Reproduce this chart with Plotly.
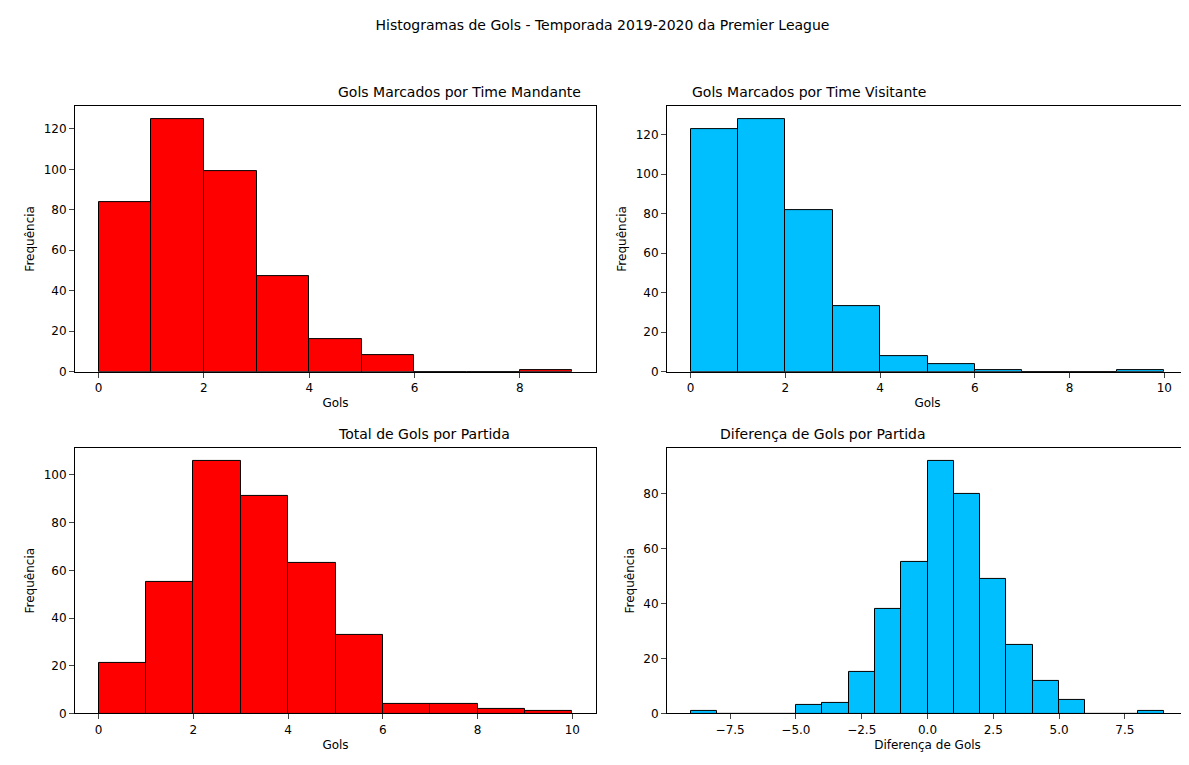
import plotly.graph_objects as go

# bin left edges (width 1) and counts
mandante_bins = [0, 1, 2, 3, 4, 5, 6, 7, 8]
mandante_freq = [84, 125, 99, 47, 16, 8, 0, 0, 1]

visitante_bins = [0, 1, 2, 3, 4, 5, 6, 7, 8, 9]
visitante_freq = [123, 128, 82, 33, 8, 4, 1, 0, 0, 1]

total_bins = [0, 1, 2, 3, 4, 5, 6, 7, 8, 9]
total_freq = [21, 55, 106, 91, 63, 33, 4, 4, 2, 1]

dif_bins = list(range(-9, 9))
dif_freq = [1, 0, 0, 0, 3, 4, 15, 38, 55, 92, 80, 49, 25, 12, 5, 0, 0, 1]

painéis = [
    ("Gols Marcados por Time Mandante", mandante_bins, mandante_freq, "red", "Gols", [0, 2, 4, 6, 8], None),
    ("Gols Marcados por Time Visitante", visitante_bins, visitante_freq, "#00bfff", "Gols", [0, 2, 4, 6, 8, 10], None),
    ("Total de Gols por Partida", total_bins, total_freq, "red", "Gols", [0, 2, 4, 6, 8, 10], None),
    ("Diferença de Gols por Partida", dif_bins, dif_freq, "#00bfff", "Diferença de Gols",
     [-7.5, -5, -2.5, 0, 2.5, 5, 7.5], ["−7.5", "−5.0", "−2.5", "0.0", "2.5", "5.0", "7.5"]),
]

W, H = 1189, 765
caixas = [(67, 588, 99, 367), (659, 1180, 99, 367), (67, 588, 444, 712), (659, 1180, 444, 712)]

fig = go.Figure()
fonte = dict(family="DejaVu Sans", color="black")
for i, ((titulo, bins, freq, cor, xt, tv, tt), (x0, x1, y0, y1)) in enumerate(zip(painéis, caixas)):
    n = "" if i == 0 else str(i + 1)
    fig.add_trace(go.Bar(x=[b + 0.5 for b in bins], y=freq, width=1, marker=dict(color=cor, line=dict(color="black", width=1)),
                         xaxis="x" + n, yaxis="y" + n, showlegend=False))
    lo, hi = bins[0], bins[-1] + 1
    pad = (hi - lo) * 0.05
    eixo = dict(showline=True, linecolor="black", mirror=True, ticks="outside", showgrid=False, zeroline=False,
                tickfont=dict(size=12, **fonte))
    fig.layout["xaxis" + n] = dict(eixo, domain=[x0 / W, x1 / W], range=[lo - pad, hi + pad], anchor="y" + n,
                                  tickvals=tv, ticktext=tt, title=dict(text=xt, font=dict(size=12, **fonte), standoff=4))
    fig.layout["yaxis" + n] = dict(eixo, domain=[1 - y1 / H, 1 - y0 / H], range=[0, max(freq) * 1.05], anchor="x" + n,
                                  title=dict(text="Frequência", font=dict(size=12, **fonte), standoff=6))
    fig.add_annotation(text=titulo, x=(x0 + x1) / 2 / W, y=1 - y0 / H, xref="paper", yref="paper",
                       yanchor="bottom", showarrow=False, yshift=4, font=dict(size=14, **fonte))

fig.update_layout(width=W, height=H, margin=dict(l=0, r=0, t=0, b=0), plot_bgcolor="white", paper_bgcolor="white",
                  bargap=0,
                  title=dict(text="Histogramas de Gols - Temporada 2019-2020 da Premier League", x=0.5, y=1 - 17 / H,
                             xanchor="center", yanchor="middle", font=dict(size=14, **fonte)))
fig.write_html("out.html")
